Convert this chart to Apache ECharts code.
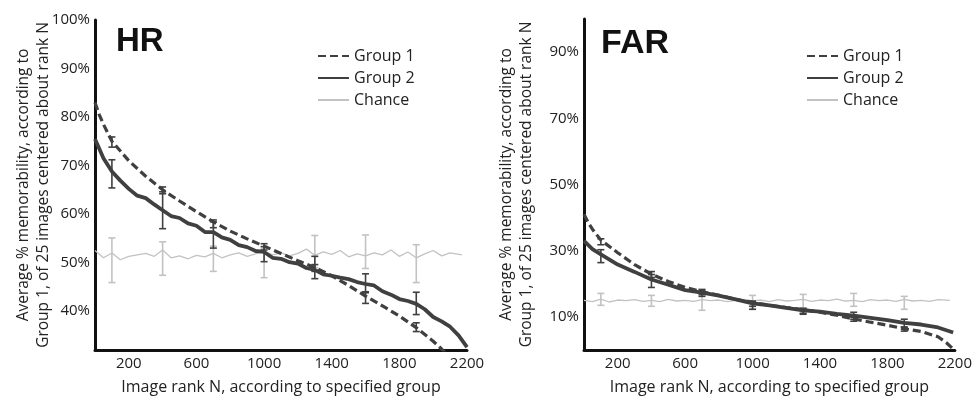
<!DOCTYPE html>
<html>
<head>
<meta charset="utf-8">
<script src="https://cdn.jsdelivr.net/npm/echarts@6/dist/echarts.min.js"></script>
<style>html,body{margin:0;padding:0;background:#fff;}#c{width:975px;height:400px;}</style>
</head>
<body>
<div id="c"></div>
<script>
// ---------- data ----------
const xTicks = [200, 600, 1000, 1400, 1800, 2200];
const hrTicks = [40, 50, 60, 70, 80, 90, 100];
const farTicks = [10, 30, 50, 70, 90];

const hrG1Ranks = [0, 25, 50, 100, 150, 200, 300, 400, 500, 600, 700, 800, 900, 1000, 1100, 1200, 1300, 1400, 1500, 1600, 1700, 1800, 1900, 2000, 2050, 2100];
const hrG1 = [83, 80.5, 78.5, 75, 73, 71, 67.8, 65, 62.7, 60.5, 58.4, 56.5, 54.9, 53.4, 51.9, 50.4, 49, 47.3, 45.3, 43.1, 41.1, 39, 36.6, 33.8, 32.2, 30.5];

const hrG2Ranks = [0, 50, 100, 150, 200, 250, 300, 350, 400, 450, 500, 550, 600, 650, 700, 750, 800, 850, 900, 950, 1000, 1050, 1100, 1150, 1200, 1250, 1300, 1350, 1400, 1450, 1500, 1550, 1600, 1650, 1700, 1750, 1800, 1850, 1900, 1950, 2000, 2050, 2100, 2150, 2200];
const hrG2 = [75.5, 71.5, 68.8, 66.9, 65.2, 63.8, 63.3, 62.0, 60.8, 59.6, 59.2, 58.1, 57.6, 56.3, 56.3, 55.2, 54.7, 53.6, 53.2, 52.4, 52.2, 51.0, 50.8, 50.1, 49.8, 48.9, 48.5, 47.6, 47.3, 46.9, 46.6, 46.0, 45.6, 45.3, 44.1, 43.4, 42.5, 42.1, 41.5, 40.4, 38.8, 37.9, 36.8, 35.0, 32.6];

const chanceRanks = [0, 50, 100, 150, 200, 250, 300, 350, 400, 450, 500, 550, 600, 650, 700, 750, 800, 850, 900, 950, 1000, 1050, 1100, 1150, 1200, 1250, 1300, 1350, 1400, 1450, 1500, 1550, 1600, 1650, 1700, 1750, 1800, 1850, 1900, 1950, 2000, 2050, 2100, 2170];
const hrChance = [52.5, 51.0, 52.0, 50.6, 51.3, 51.6, 51.9, 51.3, 52.6, 51.0, 51.4, 50.8, 51.5, 51.2, 51.9, 51.0, 51.6, 52.0, 51.3, 51.8, 52.4, 51.6, 52.0, 51.4, 51.9, 52.8, 51.5, 52.2, 51.7, 52.5, 51.2, 51.8, 51.4, 52.0, 51.6, 52.6, 51.3, 52.2, 51.0, 51.8, 52.5, 51.4, 52.0, 51.6];

const farG1Ranks = [0, 25, 50, 100, 200, 300, 400, 500, 600, 700, 800, 900, 1000, 1100, 1200, 1300, 1400, 1500, 1600, 1700, 1800, 1900, 2000, 2100, 2150, 2190];
const farG1 = [41, 38.5, 36.5, 33.2, 29.4, 25.8, 22.9, 20.7, 18.9, 17.6, 16.5, 15.3, 14.4, 13.5, 12.8, 12.2, 11.4, 10.5, 9.4, 8.4, 7.5, 6.4, 5.6, 4.0, 2.2, 0.3];

const farG2Ranks = [0, 50, 100, 200, 300, 400, 500, 600, 700, 800, 900, 1000, 1100, 1200, 1300, 1400, 1500, 1600, 1700, 1800, 1900, 2000, 2100, 2190];
const farG2 = [33, 30.5, 28.9, 25.8, 23.6, 21.3, 19.7, 18.1, 17.3, 16.4, 15.3, 14.1, 13.5, 12.7, 12.0, 11.6, 10.9, 10.4, 9.7, 9.0, 8.2, 7.7, 6.8, 5.3];

const farChance = [15.0, 14.6, 15.4, 14.5, 15.1, 14.9, 15.2, 14.7, 15.0, 14.6, 15.3, 14.8, 15.0, 14.7, 15.2, 14.9, 15.1, 14.6, 15.0, 15.3, 14.8, 15.1, 14.6, 15.2, 14.8, 15.0, 15.3, 14.7, 15.1, 14.9, 15.4, 14.8, 15.0, 14.6, 15.2, 14.9, 15.1, 14.7, 15.3, 14.8, 15.0, 14.7, 15.2, 15.0];

const errRanks = [100, 400, 700, 1000, 1300, 1600, 1900];
const hrG1Lo = [73.8, 64.2, 57.2, 52.6, 48.2, 41.6, 35.8];
const hrG1Hi = [75.9, 65.6, 58.8, 53.9, 49.6, 44.0, 37.6];
const hrG2Lo = [65.4, 57.0, 53.0, 50.2, 46.7, 43.8, 39.3];
const hrG2Hi = [71.2, 64.6, 58.4, 53.3, 51.3, 47.7, 43.9];
const hrChLo = [45.9, 47.4, 48.2, 46.9, 49.0, 48.8, 45.9];
const hrChHi = [55.1, 54.3, 53.4, 52.9, 55.6, 55.7, 53.7];
const farG1Lo = [31.8, 21.9, 16.8, 13.2, 11.1, 8.7, 5.7];
const farG1Hi = [33.6, 23.7, 18.3, 14.7, 12.6, 9.9, 6.9];
const farG2Lo = [26.4, 18.9, 16.2, 12.3, 10.8, 9.3, 6.9];
const farG2Hi = [30.3, 22.8, 18.0, 14.7, 12.3, 11.4, 9.3];
const farChLo = [13.5, 13.2, 12.0, 12.3, 12.6, 13.2, 12.3];
const farChHi = [17.1, 16.5, 16.5, 16.5, 16.8, 17.1, 16.2];

// ---------- styling ----------
const FONT = 'Open Sans';
const TXT = '#222';
const DARK = '#404040';
const LIGHT = '#c2c2c2';
const yName = 'Average % memorability, according to\nGroup 1, of 25 images centered about rank N';
const xName = 'Image rank N, according to specified group';

const zip = (xs, ys) => xs.map((x, i) => [x, ys[i]]);
const errData = (lo, hi) => errRanks.map((r, i) => [r, lo[i], hi[i]]);

function errSeries(name, idx, lo, hi, color, z) {
  return {
    type: 'custom', name: name, xAxisIndex: idx, yAxisIndex: idx, z: z,
    data: errData(lo, hi), silent: true,
    renderItem: function (params, api) {
      const x = api.value(0);
      const p1 = api.coord([x, api.value(1)]);
      const p2 = api.coord([x, api.value(2)]);
      const w = 3.5;
      const st = { stroke: color, lineWidth: 1.6, fill: null };
      return {
        type: 'group',
        children: [
          { type: 'line', shape: { x1: p1[0], y1: p1[1], x2: p2[0], y2: p2[1] }, style: st },
          { type: 'line', shape: { x1: p1[0] - w, y1: p1[1], x2: p1[0] + w, y2: p1[1] }, style: st },
          { type: 'line', shape: { x1: p2[0] - w, y1: p2[1], x2: p2[0] + w, y2: p2[1] }, style: st }
        ]
      };
    }
  };
}

function lineSeries(name, idx, data, style, z) {
  return {
    type: 'line', name: name, xAxisIndex: idx, yAxisIndex: idx, z: z,
    data: data, symbol: 'none', smooth: false, silent: true,
    lineStyle: style, itemStyle: { color: style.color }
  };
}

function xAxisCfg(idx) {
  return {
    type: 'value', gridIndex: idx, min: 0, max: 2200,
    name: xName, nameLocation: 'middle', nameGap: 29, nameMoveOverlap: false,
    nameTextStyle: { fontFamily: FONT, fontSize: 16, color: TXT },
    axisLine: { show: true, onZero: false, lineStyle: { color: '#111', width: 3 } },
    axisTick: { show: false },
    splitLine: { show: false },
    axisLabel: { customValues: xTicks, margin: 6, fontFamily: FONT, fontSize: 15, color: TXT, formatter: v => String(v) }
  };
}

function yAxisCfg(idx, min, max, ticks, gap) {
  return {
    type: 'value', gridIndex: idx, min: min, max: max,
    name: yName, nameLocation: 'middle', nameRotate: 90, nameGap: gap, nameMoveOverlap: false,
    nameTextStyle: { fontFamily: FONT, fontSize: 15.5, lineHeight: 20, color: TXT },
    axisLine: { show: true, onZero: false, lineStyle: { color: '#111', width: 3 } },
    axisTick: { show: false },
    splitLine: { show: false },
    axisLabel: { customValues: ticks, margin: 5, fontFamily: FONT, fontSize: 15, color: TXT, formatter: v => v + '%' }
  };
}

function legendCfg(left) {
  return {
    left: left, top: 47, orient: 'vertical',
    data: ['Group 1', 'Group 2', 'Chance'],
    itemWidth: 31, itemHeight: 12, itemGap: 4, padding: 0,
    selectedMode: false,
    itemStyle: { opacity: 0 },
    textStyle: { fontFamily: FONT, fontSize: 16, color: TXT, lineHeight: 18 }
  };
}

const g1Style = { color: DARK, width: 3.2, type: [8, 4] };
const g2Style = { color: DARK, width: 3.8, type: 'solid' };
const chStyle = { color: LIGHT, width: 1.3, type: 'solid' };

const option = {
  backgroundColor: '#fff',
  animation: false,
  title: [
    { text: 'HR', left: 116, top: 25, padding: 0, textStyle: { fontFamily: 'Liberation Sans', fontWeight: 'bold', fontSize: 33, color: '#111' } },
    { text: 'FAR', left: 601, top: 27, padding: 0, textStyle: { fontFamily: 'Liberation Sans', fontWeight: 'bold', fontSize: 34, color: '#111' } }
  ],
  legend: [legendCfg(317), legendCfg(806)],
  grid: [
    { left: 95, top: 20, width: 372, height: 331 },
    { left: 584, top: 19, width: 373, height: 333 }
  ],
  xAxis: [xAxisCfg(0), xAxisCfg(1)],
  yAxis: [yAxisCfg(0, 32, 100, hrTicks, 41), yAxisCfg(1, 0, 100, farTicks, 47)],
  series: [
    lineSeries('Chance', 0, zip(chanceRanks, hrChance), chStyle, 2),
    lineSeries('Group 1', 0, zip(hrG1Ranks, hrG1), g1Style, 3),
    lineSeries('Group 2', 0, zip(hrG2Ranks, hrG2), g2Style, 4),
    errSeries('errChHR', 0, hrChLo, hrChHi, LIGHT, 2),
    errSeries('errG1HR', 0, hrG1Lo, hrG1Hi, DARK, 5),
    errSeries('errG2HR', 0, hrG2Lo, hrG2Hi, DARK, 5),
    lineSeries('Chance', 1, zip(chanceRanks, farChance), chStyle, 2),
    lineSeries('Group 1', 1, zip(farG1Ranks, farG1), g1Style, 3),
    lineSeries('Group 2', 1, zip(farG2Ranks, farG2), g2Style, 4),
    errSeries('errChFAR', 1, farChLo, farChHi, LIGHT, 2),
    errSeries('errG1FAR', 1, farG1Lo, farG1Hi, DARK, 5),
    errSeries('errG2FAR', 1, farG2Lo, farG2Hi, DARK, 5)
  ]
};

const chart = echarts.init(document.getElementById('c'), null, { renderer: 'canvas' });
chart.setOption(option);
</script>
</body>
</html>
